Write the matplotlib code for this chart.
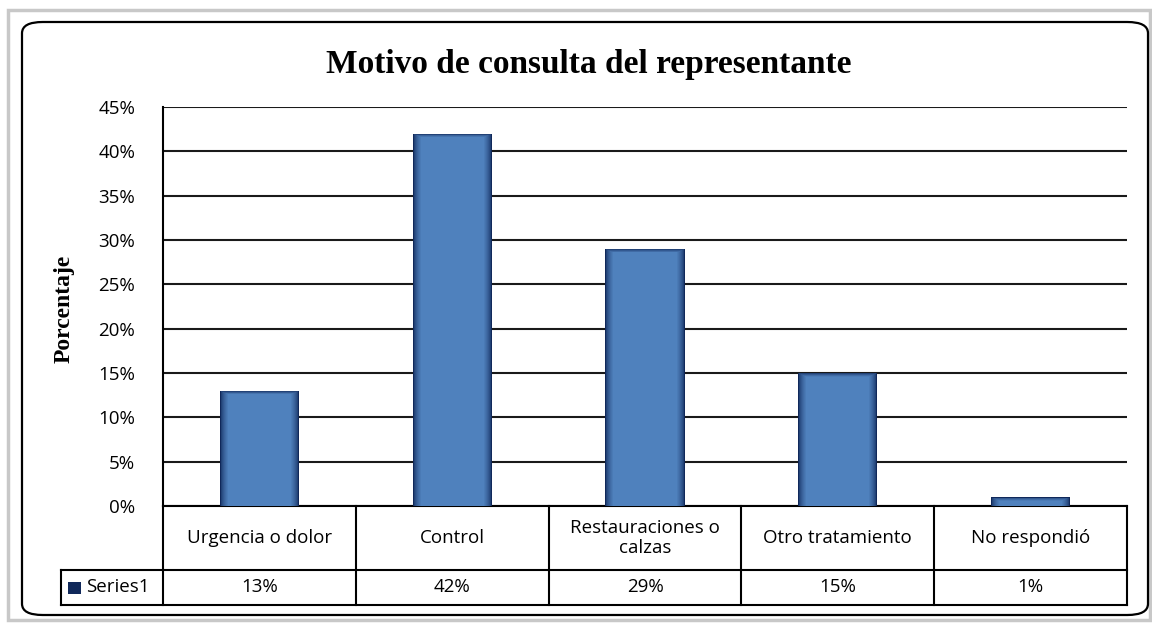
import numpy as np
import matplotlib
matplotlib.use('Agg')
import matplotlib.pyplot as plt
import matplotlib.transforms as mtransforms
from matplotlib.patches import FancyBboxPatch, Rectangle
from matplotlib.colors import to_rgb

categorias = ['Urgencia o dolor', 'Control', 'Restauraciones o\ncalzas',
              'Otro tratamiento', 'No respondió']
valores = [13, 42, 29, 15, 1]
etiquetas = ['13%', '42%', '29%', '15%', '1%']
serie = 'Series1'
yticks = [0, 5, 10, 15, 20, 25, 30, 35, 40, 45]

fig = plt.figure(figsize=(11.52, 6.23), dpi=100)
fig.patch.set_facecolor('white')

# borde gris de la ventana y marco redondeado
borde = Rectangle((8 / 1152, 3 / 623), 1142 / 1152, 610 / 623,
                  transform=fig.transFigure, fill=False,
                  edgecolor='#c8c8c8', linewidth=2.5)
fig.patches.append(borde)
marco = FancyBboxPatch((22 / 1152, 8 / 623), 1126 / 1152, 593 / 623,
                       boxstyle='round,pad=0,rounding_size=0.018',
                       transform=fig.transFigure, fill=False,
                       edgecolor='black', linewidth=1.6)
fig.patches.append(marco)

ax = fig.add_axes([163 / 1152, 117 / 623, 964 / 1152, 399 / 623])
x = np.arange(len(categorias))

# barras con sombreado (capas de oscuro a claro)
oscuro = np.array(to_rgb('#10285a'))
claro = np.array(to_rgb('#4f81bd'))
ancho = 0.41
px_x = 1 / 192.8
px_y = 45 / 399
capas = 9
for k in range(capas):
    t = (k / (capas - 1)) ** 0.6
    col = oscuro * (1 - t) + claro * t
    w = ancho - 2 * k * px_x
    h = [max(v - k * px_y * 0.45, 0) for v in valores]
    ax.bar(x, h, width=w, color=col, edgecolor='none', zorder=3 + k * 0.01)

ax.set_xlim(-0.5, len(categorias) - 0.5)
ax.set_ylim(0, 45)
ax.set_yticks(yticks)
ax.set_yticklabels([f'{v}%' for v in yticks], fontsize=13.5, family='Open Sans')
ax.tick_params(axis='y', length=0, pad=20)
ax.set_xticks([])
ax.grid(axis='y', color='#1a1a1a', linewidth=1.5, zorder=1)
for s in ['top', 'right', 'bottom']:
    ax.spines[s].set_visible(False)
ax.spines['left'].set_linewidth(1.5)

ax.set_ylabel('Porcentaje', family='Liberation Serif', fontweight='bold',
              fontsize=17)
ax.yaxis.set_label_coords(-88 / 964, (506 - 309) / 399)
fig.text(589 / 1152, 1 - 64 / 623, 'Motivo de consulta del representante',
         ha='center', va='center', family='Liberation Serif',
         fontweight='bold', fontsize=24)

# tabla de datos
tr = mtransforms.blended_transform_factory(ax.transData, ax.transAxes)
y1 = -64 / 399
y2 = -99 / 399
izq = -0.5 - 102 / 192.8
der = len(categorias) - 0.5
kw = dict(color='black', linewidth=1.5, transform=tr, clip_on=False)
ax.plot([-0.5, der], [0, 0], **kw)
ax.plot([izq, der], [y1, y1], **kw)
ax.plot([izq, der], [y2, y2], **kw)
ax.plot([izq, izq], [y1, y2], **kw)
for b in np.arange(-0.5, der + 0.01, 1):
    ax.plot([b, b], [0, y2], **kw)
for xi, cat, et in zip(x, categorias, etiquetas):
    ax.text(xi, y1 / 2, cat, transform=tr, ha='center', va='center',
            fontsize=13.5, family='Open Sans', linespacing=1.1)
    ax.text(xi, (y1 + y2) / 2, et, transform=tr, ha='center', va='center',
            fontsize=13.5, family='Open Sans')
ax.add_patch(Rectangle((izq + 7 / 192.8, (y1 + y2) / 2 - 6 / 399),
                       13 / 192.8, 12 / 399, transform=tr, clip_on=False,
                       facecolor='#10285a', edgecolor='none'))
ax.text(izq + 25 / 192.8, (y1 + y2) / 2, serie, transform=tr, ha='left',
        va='center', fontsize=13.5, family='Open Sans')

fig.savefig('out.png', dpi=100)
